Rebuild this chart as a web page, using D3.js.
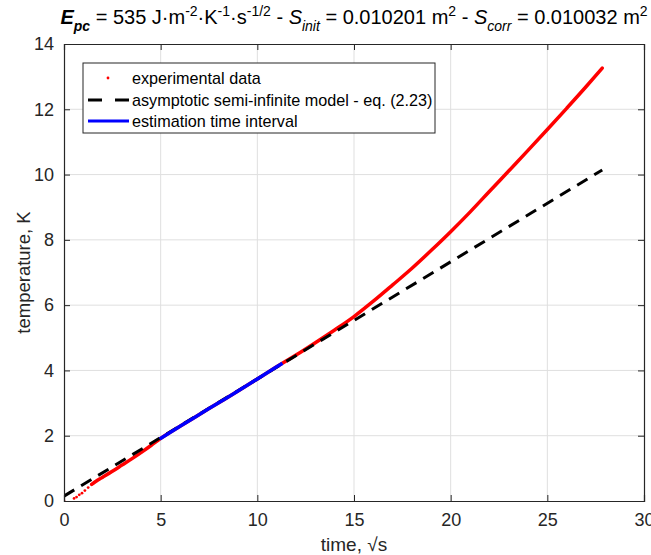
<!DOCTYPE html>
<html>
<head>
<meta charset="utf-8">
<script src="https://cdn.jsdelivr.net/npm/d3@7"></script>
<style>
  body { margin: 0; background: #fff; }
  text { font-family: "Liberation Sans", Arial, sans-serif; }
</style>
</head>
<body>
<svg width="651" height="555"></svg>
<script>
'use strict';

const dataX = [0, 0.52, 0.65, 0.79, 0.93, 1.08, 1.25, 1.43, 1.6, 1.86, 2.0, 2.5, 3.0, 3.5, 4.0, 4.5,
  5.0, 6.0, 7.0, 8.0, 9.0, 10.0, 11.0, 12.0, 13.0, 14.0, 15.0, 16.0, 17.0, 18.0, 19.0, 20.0,
  21.0, 22.0, 23.0, 24.0, 25.0, 26.0, 27.0, 27.84];
const dataY = [0, 0.08, 0.12, 0.19, 0.24, 0.32, 0.41, 0.51, 0.58, 0.68, 0.73, 0.91, 1.1, 1.29, 1.49, 1.7,
  1.92, 2.29, 2.65, 3.01, 3.37, 3.74, 4.11, 4.47, 4.85, 5.24, 5.65, 6.12, 6.62, 7.13, 7.68, 8.25,
  8.85, 9.48, 10.11, 10.74, 11.38, 12.03, 12.69, 13.26];

// asymptotic model, end points of the dashed line
const modelX = [0, 27.84];
const modelY = [0.15, 10.14];

// estimation time interval
const estX = [4.95, 6.0, 7.0, 8.0, 9.0, 10.0, 11.0, 11.3];
const estY = [1.9, 2.29, 2.65, 3.01, 3.37, 3.74, 4.11, 4.22];

const xTicks = [0, 5, 10, 15, 20, 25, 30];
const yTicks = [0, 2, 4, 6, 8, 10, 12, 14];

const legendLabels = ["experimental data", "asymptotic semi-infinite model - eq. (2.23)", "estimation time interval"];

const svg = d3.select("svg");
const margin = {left: 64, right: 7, top: 44, bottom: 54};
const W = 651, H = 555;
const axisColor = "#262626";

const x = d3.scaleLinear().domain([0, 30]).range([margin.left, W - margin.right]);
const y = d3.scaleLinear().domain([0, 14]).range([H - margin.bottom, margin.top]);

// grid
svg.append("g").selectAll("line").data(xTicks.slice(1, -1)).join("line")
  .attr("x1", d => x(d)).attr("x2", d => x(d))
  .attr("y1", y(0)).attr("y2", y(14))
  .attr("stroke", "#dfdfdf").attr("stroke-width", 1);
svg.append("g").selectAll("line").data(yTicks.slice(1, -1)).join("line")
  .attr("y1", d => y(d)).attr("y2", d => y(d))
  .attr("x1", x(0)).attr("x2", x(30))
  .attr("stroke", "#dfdfdf").attr("stroke-width", 1);

// clip
svg.append("clipPath").attr("id", "clip").append("rect")
  .attr("x", x(0)).attr("y", y(14)).attr("width", x(30) - x(0)).attr("height", y(0) - y(14));

const plot = svg.append("g").attr("clip-path", "url(#clip)");

const pts = dataX.map((d, i) => [d, dataY[i]]);
const line = d3.line().x(d => x(d[0])).y(d => y(d[1])).curve(d3.curveMonotoneX);

// dense data drawn as a thick trace, sparse start as dots
plot.append("path")
  .datum(pts.filter(d => d[0] >= 1.4))
  .attr("d", line)
  .attr("fill", "none").attr("stroke", "#ff0000").attr("stroke-width", 3.5)
  .attr("stroke-linecap", "round");
plot.append("g").selectAll("circle").data(pts.filter(d => d[0] < 1.5)).join("circle")
  .attr("cx", d => x(d[0])).attr("cy", d => y(d[1])).attr("r", 1.4)
  .attr("fill", "#ff0000");

// model
plot.append("path")
  .datum(modelX.map((d, i) => [d, modelY[i]]))
  .attr("d", line)
  .attr("fill", "none").attr("stroke", "#000").attr("stroke-width", 3)
  .attr("stroke-dasharray", "12,8");

// estimation interval on top
plot.append("path")
  .datum(estX.map((d, i) => [d, estY[i]]))
  .attr("d", line)
  .attr("fill", "none").attr("stroke", "#0000ff").attr("stroke-width", 3.5);

// axes (box with inward ticks)
const xAxis = d3.axisBottom(x).tickValues(xTicks).tickSize(-6).tickPadding(12);
const yAxis = d3.axisLeft(y).tickValues(yTicks).tickSize(-6).tickPadding(10);
const gx = svg.append("g").attr("transform", `translate(0,${y(0)})`).call(xAxis);
const gy = svg.append("g").attr("transform", `translate(${x(0)},0)`).call(yAxis);
const gx2 = svg.append("g").attr("transform", `translate(0,${y(14)})`)
  .call(d3.axisTop(x).tickValues(xTicks).tickSize(-6).tickFormat(""));
const gy2 = svg.append("g").attr("transform", `translate(${x(30)},0)`)
  .call(d3.axisRight(y).tickValues(yTicks).tickSize(-6).tickFormat(""));
[gx, gy, gx2, gy2].forEach(g => {
  g.selectAll("path").attr("stroke", axisColor).attr("stroke-width", 1.2);
  g.selectAll("line").attr("stroke", axisColor);
  g.selectAll("text").attr("fill", axisColor).style("font-size", "18px")
    .style("font-family", "'Liberation Sans', Arial, sans-serif");
});

// axis labels
svg.append("text").attr("x", x(15)).attr("y", 551).attr("text-anchor", "middle")
  .attr("fill", axisColor).style("font-size", "19px").text("time, √s");
svg.append("text").attr("transform", `translate(30,${y(7)}) rotate(-90)`).attr("text-anchor", "middle")
  .attr("fill", axisColor).style("font-size", "18.5px").text("temperature, K");

// title
const sub = "14px";
const title = svg.append("text").attr("x", x(15)).attr("y", 24).attr("text-anchor", "middle")
  .attr("fill", "#000").style("font-size", "20px");
title.append("tspan").attr("font-weight", "bold").attr("font-style", "italic").text("E");
title.append("tspan").attr("font-weight", "bold").attr("font-style", "italic")
  .attr("dy", 7).style("font-size", sub).text("pc");
title.append("tspan").attr("dy", -7).text(" = 535 J·m");
title.append("tspan").attr("dy", -8).style("font-size", sub).text("-2");
title.append("tspan").attr("dy", 8).text("·K");
title.append("tspan").attr("dy", -8).style("font-size", sub).text("-1");
title.append("tspan").attr("dy", 8).text("·s");
title.append("tspan").attr("dy", -8).style("font-size", sub).text("-1/2");
title.append("tspan").attr("dy", 8).text(" - ");
title.append("tspan").attr("font-style", "italic").text("S");
title.append("tspan").attr("font-style", "italic").attr("dy", 7).style("font-size", sub).text("init");
title.append("tspan").attr("dy", -7).text(" = 0.010201 m");
title.append("tspan").attr("dy", -8).style("font-size", sub).text("2");
title.append("tspan").attr("dy", 8).text(" - ");
title.append("tspan").attr("font-style", "italic").text("S");
title.append("tspan").attr("font-style", "italic").attr("dy", 7).style("font-size", sub).text("corr");
title.append("tspan").attr("dy", -7).text(" = 0.010032 m");
title.append("tspan").attr("dy", -8).style("font-size", sub).text("2");

// legend
const lg = svg.append("g");
lg.append("rect").attr("x", 83).attr("y", 63).attr("width", 352).attr("height", 70)
  .attr("fill", "#fff").attr("stroke", axisColor).attr("stroke-width", 1);
const rowY = [78, 100, 121];
lg.append("circle").attr("cx", 108).attr("cy", rowY[0]).attr("r", 1.4).attr("fill", "#ff0000");
lg.append("line").attr("x1", 88).attr("x2", 129).attr("y1", rowY[1]).attr("y2", rowY[1])
  .attr("stroke", "#000").attr("stroke-width", 3).attr("stroke-dasharray", "14,13");
lg.append("line").attr("x1", 88).attr("x2", 129).attr("y1", rowY[2]).attr("y2", rowY[2])
  .attr("stroke", "#0000ff").attr("stroke-width", 3);
lg.selectAll("text.lab").data(legendLabels).join("text").attr("class", "lab")
  .attr("x", 132).attr("y", (d, i) => rowY[i] + 6)
  .attr("fill", "#000").style("font-size", "16.2px").text(d => d);
</script>
</body>
</html>
